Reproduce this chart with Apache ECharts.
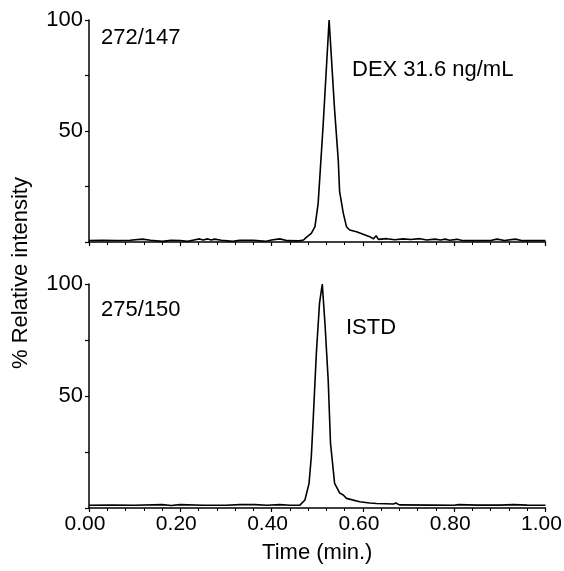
<!DOCTYPE html>
<html>
<head>
<meta charset="utf-8">
<script src="https://cdn.jsdelivr.net/npm/echarts@6/dist/echarts.min.js"></script>
<style>
html,body{margin:0;padding:0;background:#fff;}
#c{width:564px;height:571px;}
</style>
</head>
<body>
<div id="c"></div>
<script>
// ---- Data ----
const dexTime = [0.00,0.03,0.06,0.09,0.117,0.135,0.161,0.18,0.20,0.216,0.23,0.242,0.25,0.26,0.268,0.275,0.29,0.315,0.33,0.36,0.388,0.40,0.418,0.435,0.46,0.470,0.476,0.487,0.495,0.502,0.513,0.526,0.538,0.546,0.549,0.557,0.564,0.571,0.586,0.615,0.623,0.629,0.634,0.652,0.67,0.688,0.705,0.725,0.74,0.758,0.77,0.78,0.79,0.806,0.82,0.86,0.88,0.894,0.91,0.934,0.95,1.0];
const dexInt  = [0.7,0.8,0.7,0.8,1.3,0.8,0.3,0.8,0.7,0.3,0.9,1.4,0.9,1.4,0.9,1.3,0.8,0.3,0.8,0.8,0.3,0.9,1.4,0.6,0.5,0.9,2.1,3.9,6.9,17.4,53,100,59.5,37,22.7,13,6.9,5.4,4.6,2.4,1.4,2.8,1.2,1.5,1.0,1.4,1.1,1.5,0.9,1.3,0.9,1.3,0.8,1.2,0.6,0.6,0.7,1.3,0.7,1.3,0.6,0.6];

const istdTime = [0.00,0.05,0.10,0.16,0.18,0.20,0.25,0.30,0.33,0.363,0.39,0.418,0.44,0.462,0.473,0.482,0.487,0.491,0.498,0.505,0.511,0.517,0.524,0.529,0.538,0.549,0.557,0.564,0.593,0.615,0.63,0.667,0.672,0.68,0.75,0.80,0.81,0.85,0.90,0.93,0.96,1.0];
const istdInt  = [1.2,1.3,1.2,1.5,1.1,1.5,1.2,1.2,1.5,1.5,1.2,1.5,1.2,1.3,3.6,11,23,39,69,91.5,100,82,57,29,11,6.7,5.8,4.3,2.8,2.2,2.0,1.8,2.2,1.4,1.3,1.2,1.5,1.3,1.3,1.5,1.3,1.2];

const xTicks = { min: 0, max: 1.0, interval: 0.2 };
const yTicks = { min: 0, max: 100, interval: 25, labelled: [50, 100] };

const panelLabels = ['272/147', '275/150'];
const compoundLabels = ['DEX 31.6 ng/mL', 'ISTD'];
const yTitle = '% Relative intensity';
const xTitle = 'Time (min.)';

// ---- Chart ----
const FONT = '"Liberation Sans", Arial, sans-serif';
const chart = echarts.init(document.getElementById('c'), null, {renderer: 'canvas'});

function xAxisDef(gridIndex, showLabels) {
  return {
    type: 'value', gridIndex,
    min: xTicks.min, max: xTicks.max, interval: xTicks.interval,
    axisLine: {show: true, onZero: false, lineStyle: {color: '#000', width: 1.5}},
    axisTick: {show: true, length: 4, lineStyle: {color: '#000', width: 1.2}},
    minorTick: {show: true, splitNumber: 5, length: 3, lineStyle: {color: '#000', width: 1}},
    splitLine: {show: false},
    axisLabel: {show: showLabels, color: '#000', fontSize: 21, fontFamily: FONT, margin: 6,
      padding: [0, 8, 0, 0], formatter: v => v.toFixed(2)},
    name: showLabels ? xTitle : '',
    nameLocation: 'middle', nameGap: 34,
    nameTextStyle: {color: '#000', fontSize: 22, fontFamily: FONT}
  };
}
function yAxisDef(gridIndex) {
  return {
    type: 'value', gridIndex,
    min: yTicks.min, max: yTicks.max, interval: yTicks.interval,
    axisLine: {show: true, lineStyle: {color: '#000', width: 1.5}},
    axisTick: {show: true, length: 4, lineStyle: {color: '#000', width: 1.2}},
    splitLine: {show: false},
    axisLabel: {color: '#000', fontSize: 22, fontFamily: FONT, margin: 6,
      formatter: v => yTicks.labelled.indexOf(v) >= 0 ? String(v) : ''}
  };
}
function seriesDef(idx, t, y) {
  return {
    type: 'line', xAxisIndex: idx, yAxisIndex: idx,
    data: t.map((v, i) => [v, y[i]]),
    showSymbol: false, symbol: 'none', animation: false,
    lineStyle: {color: '#000', width: 1.6},
    z: 3
  };
}

const option = {
  backgroundColor: '#fff',
  animation: false,
  grid: [
    {left: 89, right: 18.5, top: 20, height: 222, containLabel: false, outerBoundsMode: 'none'},
    {left: 89, right: 18.5, top: 284, height: 224, containLabel: false, outerBoundsMode: 'none'}
  ],
  xAxis: [xAxisDef(0, false), xAxisDef(1, true)],
  yAxis: [yAxisDef(0), yAxisDef(1)],
  series: [seriesDef(0, dexTime, dexInt), seriesDef(1, istdTime, istdInt)],
  graphic: [
    {type: 'text', style: {x: 101, y: 38, text: panelLabels[0], fill: '#000', font: '22px ' + FONT, verticalAlign: 'middle', align: 'left'}},
    {type: 'text', style: {x: 352, y: 70, text: compoundLabels[0], fill: '#000', font: '22px ' + FONT, verticalAlign: 'middle', align: 'left'}},
    {type: 'text', style: {x: 101, y: 310, text: panelLabels[1], fill: '#000', font: '22px ' + FONT, verticalAlign: 'middle', align: 'left'}},
    {type: 'text', style: {x: 346, y: 328, text: compoundLabels[1], fill: '#000', font: '22px ' + FONT, verticalAlign: 'middle', align: 'left'}},
    {type: 'text', rotation: Math.PI / 2, x: 21, y: 273,
      style: {x: 0, y: 0, text: yTitle, fill: '#000', font: '22px ' + FONT, verticalAlign: 'middle', align: 'center'}}
  ]
};
chart.setOption(option);
</script>
</body>
</html>
